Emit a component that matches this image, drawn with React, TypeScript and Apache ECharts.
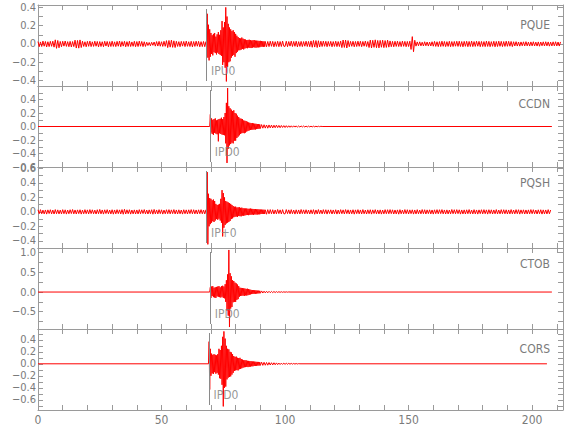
import React, { useEffect, useRef } from 'react';
import * as echarts from 'echarts';

// ---------- data ----------
const STATIONS = ['PQUE', 'CCDN', 'PQSH', 'CTOB', 'CORS'];
const PHASES = ['IPU0', 'IPD0', 'IP+0', 'IPD0', 'IPD0'];
const PICK_TIMES = [68.2, 69.7, 68.2, 69.7, 69.2];
const Y_MIN = [-0.46, -0.6, -0.5, -0.94, -0.77];
const Y_MAX = [0.426, 0.6, 0.62, 1.12, 0.58];
const X_MAX = 212.5;
const COARSE = 0.5; // s between samples in quiet parts
const FINE = 0.25; // s between samples in the event window

// amplitudes in thousandths
// PQUE: pre-event from t = 0 (0.5 s), event from 68 s (0.25 s), coda from 92.5 s (0.5 s)
const PQUE_PRE_MILLI = [
  26,-30,22,-28,31,-25,27,-33,24,-29,28,-26,30,-35,45,-48,38,-42,27,-31,
  29,-24,32,-27,25,-30,28,-33,26,-29,41,-45,38,-46,44,-39,30,-27,24,-31,
  28,-26,31,-29,23,-27,30,-25,27,-32,26,-28,24,-30,29,-23,27,-31,25,-28,
  30,-27,23,-29,28,-25,32,-30,26,-24,29,-31,25,-27,30,-28,22,-26,29,-30,
  26,-28,31,-25,27,-29,24,-27,19,-17,16,-20,18,-15,21,-24,26,-23,28,-25,
  24,-27,29,-26,36,-40,38,-35,41,-37,34,-39,29,-27,25,-30,28,-24,27,-29,
  31,-26,24,-28,29,-32,26,-27,30,-25,28,-31,25,-29,27,-30,
];
const PQUE_EVENT_START = 68;
const PQUE_EVENT_MILLI = [
  25,-30,330,-150,210,-180,160,-140,120,-110,95,-125,110,-90,120,-100,80,-115,105,-95,
  130,-110,100,-120,150,-130,250,-230,180,-200,240,-260,400,-410,300,-250,220,-200,180,-190,
  160,-150,140,-130,150,-120,130,-140,110,-100,90,-85,75,-70,65,-68,60,-62,70,-55,
  58,-60,52,-50,48,-45,42,-47,44,-40,46,-43,41,-45,38,-42,40,-36,43,-39,
  37,-41,36,-38,35,-37,33,-36,34,-31,32,-30,29,-31,28,-30,27,
];
const PQUE_POST_START = 92.5;
const PQUE_POST_MILLI = [
  -31,27,-29,30,-26,28,-32,25,-27,29,-30,26,-28,31,-25,
  -27,29,-30,26,-24,31,-28,27,-26,30,-32,25,-27,28,-29,26,-25,30,-28,27,
  -30,33,-36,38,-34,37,-39,35,-33,30,-28,31,-26,29,-30,27,-25,28,-31,26,
  -27,30,-29,26,-28,31,-40,43,-38,42,-44,37,-30,28,-26,29,-31,27,-28,30,
  -26,29,-30,27,-25,31,-28,26,-39,42,-44,40,-37,45,-41,38,-43,39,-36,41,
  -40,37,-38,42,-35,33,-30,28,-31,29,-27,30,-28,26,-29,31,-26,28,-30,27,
  -28,30,-60,80,-85,40,-24,22,-20,23,-21,19,-22,24,-20,21,-23,20,-22,24,
  -25,28,-27,24,-29,26,-28,30,-26,27,-29,25,-27,29,-30,26,-28,27,-25,29,
  -27,30,-28,26,-31,28,-26,29,-30,27,-28,31,-29,26,-27,30,-25,28,-30,27,
  -28,26,-29,31,-27,28,-30,25,-26,29,-31,27,-28,30,-26,28,-29,26,-27,30,
  -26,28,-25,27,-29,24,-22,25,-23,21,-24,22,-20,23,-22,25,-21,20,-23,22,
  -21,24,-22,20,-23,22,-25,21,-20,23,-22,24,-21,22,-24,20,-22,23,-21,24,
  -22,21,-23,22,
];

const PQSH_PRE_MILLI = [
  28,-25,30,-27,24,-29,26,-31,27,-24,29,-28,25,-30,31,-26,27,-29,24,-28,
  30,-26,28,-31,25,-27,29,-24,32,-28,26,-30,27,-25,29,-31,24,-27,30,-26,
  27,-29,31,-25,28,-27,24,-30,29,-26,33,-28,26,-31,28,-24,30,-27,25,-29,
  29,-32,26,-28,30,-25,27,-29,31,-33,35,-30,28,-26,29,-31,25,-28,27,-30,
  26,-29,30,-27,28,-24,31,-28,25,-30,27,-26,29,-32,33,-28,26,-29,30,-25,
  28,-31,24,-27,29,-26,30,-28,27,-25,31,-29,26,-30,28,-27,25,-31,29,-26,
  27,-30,28,-25,31,-27,29,-28,26,-30,28,-26,30,-27,25,-29,
];
const PQSH_EVENT_START = 68;
const PQSH_EVENT_MILLI = [
  28,-30,550,-450,250,-200,190,-170,180,-150,160,-130,170,-140,150,-120,110,-100,95,-110,
  100,-95,110,-120,180,-150,300,-340,260,-220,200,-180,150,-160,140,-150,130,-140,120,-125,
  110,-100,95,-90,80,-75,70,-68,72,-65,60,-70,62,-58,64,-60,55,-62,58,-52,
  50,-55,48,-50,46,-45,47,-44,42,-46,43,-41,45,-40,42,-38,40,-42,38,-36,
  39,-37,35,-38,36,-34,33,-35,32,-30,31,-29,30,-28,29,-30,28,
];
const PQSH_POST_START = 92.5;
const PQSH_POST_MILLI = [
  -33,30,-28,31,-27,29,-30,26,-28,32,-25,27,-29,30,-26,
  -28,31,-25,27,-29,30,-26,24,-31,28,-27,26,-30,32,-25,27,-28,29,-26,25,
  -30,28,-27,30,-33,26,-29,31,-27,25,-28,30,-26,29,-31,27,-24,28,-30,26,
  -27,29,-31,25,-28,30,-26,27,-29,31,-25,28,-30,26,-27,29,-32,27,-25,30,
  -28,26,-29,31,-27,25,-30,28,-26,29,-31,27,-24,30,-28,26,-29,27,-31,25,
  -28,30,-26,29,-27,31,-25,28,-30,26,-29,27,-32,30,-27,25,-28,31,-26,29,
  -30,27,-25,28,-31,26,-29,30,-27,24,-28,31,-26,29,-30,27,-25,28,-29,26,
  -31,28,-26,30,-27,29,-25,31,-28,26,-30,27,-29,25,-28,32,-26,29,-27,30,
  -25,28,-31,26,-29,27,-30,28,-26,31,-27,25,-29,30,-28,26,-31,27,-25,29,
  -28,30,-26,27,-31,29,-25,28,-30,26,-27,31,-29,25,-28,30,-26,29,-27,28,
  -30,26,-29,31,-27,25,-28,30,-26,29,-31,27,-25,28,-30,26,-29,27,-28,31,
  -26,29,-27,25,-30,28,-26,29,-31,27,-28,26,-29,30,-27,25,
];

// quiet stations: flat before onset, event window (0.25 s), coda tail (0.5 s), flat to end
const CCDN_START = 69.5;
const CCDN_END = 208;
const CCDN_EVENT_MILLI = [
  0,180,-90,120,-110,100,-125,110,-95,120,-105,90,-115,100,-220,110,-100,115,-110,130,
  -120,110,-125,140,-130,200,-250,350,-540,570,-330,300,-280,270,-260,250,-240,230,-250,240,
  -210,200,-210,190,-170,160,-150,140,-130,120,-110,115,-100,110,-95,90,-100,85,-90,80,
  -75,70,-65,60,-58,55,-52,50,-48,52,-47,45,-44,42,-45,40,-38,37,-36,35,
  -33,32,-30,
];
const CCDN_TAIL_START = 90.5;
const CCDN_TAIL_MILLI = [
  28,-25,26,-24,22,-25,23,-20,21,-22,19,-18,20,-17,16,-18,15,-14,13,-15,
  12,-13,11,-12,10,-11,10,-9,9,-10,8,-9,8,-7,7,-8,6,-7,6,-6,
  5,-6,5,-5,4,-4,4,-3,3,0,
];

const CTOB_START = 69.5;
const CTOB_END = 208;
const CTOB_EVENT_MILLI = [
  0,120,-150,140,-100,150,-130,110,-140,120,-150,130,-110,140,-120,150,-130,120,-140,150,
  -120,160,-150,140,-160,200,-250,300,-470,450,-600,1070,-890,480,-420,400,-380,300,-260,280,
  -250,240,-250,220,-200,190,-180,150,-120,110,-100,105,-95,100,-90,95,-100,90,-85,80,
  -90,85,-80,75,-70,65,-60,55,-52,50,-48,46,-45,48,-44,42,-40,38,-36,35,
  -33,32,-30,
];
const CTOB_TAIL_START = 90.5;
const CTOB_TAIL_MILLI = [
  28,-25,22,-21,20,-19,18,-16,15,-14,13,-12,11,-10,9,-8,8,-7,6,-5,
  5,-4,3,0,
];

const CORS_START = 69;
const CORS_END = 206;
const CORS_EVENT_MILLI = [
  0,370,-430,250,-200,170,-160,150,-170,160,-140,150,-165,140,-150,160,-180,250,-240,230,
  -250,300,-350,450,-710,540,-400,420,-380,300,-260,250,-230,240,-220,200,-210,190,-180,160,
  -150,130,-120,115,-110,120,-105,100,-110,95,-90,100,-85,80,-75,70,-65,60,-58,60,
  -55,58,-52,50,-55,48,-50,45,-47,44,-42,40,-42,38,-36,37,-35,33,-34,32,
  -30,31,-29,28,-27,
];
const CORS_TAIL_START = 90.5;
const CORS_TAIL_MILLI = [
  27,-26,25,-24,22,-23,21,-20,18,-19,17,-16,15,-14,12,-12,11,-10,10,-9,
  9,-8,8,-7,7,-6,6,-5,5,-4,3,0,
];

// ---------- builders ----------
function samples(start: number, step: number, milli: number[]): number[][] {
  return milli.map((v, i) => [start + i * step, v / 1000]);
}
function noisyTrace(pre: number[], evStart: number, ev: number[], postStart: number, post: number[]) {
  return [
    ...samples(0, COARSE, pre),
    ...samples(evStart, FINE, ev),
    ...samples(postStart, COARSE, post),
  ];
}
function quietTrace(start: number, ev: number[], tailStart: number, tail: number[], end: number) {
  return [[0, 0], ...samples(start, FINE, ev), ...samples(tailStart, COARSE, tail), [end, 0]];
}

const TRACES = [
  noisyTrace(PQUE_PRE_MILLI, PQUE_EVENT_START, PQUE_EVENT_MILLI, PQUE_POST_START, PQUE_POST_MILLI),
  quietTrace(CCDN_START, CCDN_EVENT_MILLI, CCDN_TAIL_START, CCDN_TAIL_MILLI, CCDN_END),
  noisyTrace(PQSH_PRE_MILLI, PQSH_EVENT_START, PQSH_EVENT_MILLI, PQSH_POST_START, PQSH_POST_MILLI),
  quietTrace(CTOB_START, CTOB_EVENT_MILLI, CTOB_TAIL_START, CTOB_TAIL_MILLI, CTOB_END),
  quietTrace(CORS_START, CORS_EVENT_MILLI, CORS_TAIL_START, CORS_TAIL_MILLI, CORS_END),
];

// ---------- layout / style ----------
const GRID_TOP = [5, 86, 167, 248, 329];
const GRID_H = 81;
const GRID_LEFT = 38;
const GRID_W = 525;
const SPLIT_NUMBERS = [5, 5, 5, 5, 6];
const SHOW_MIN_LABEL = [false, true, false, false, false];
const STATION_LABEL_Y = [25, 104, 183, 264, 349];
const AX = '#9a9a9a';
const TXT = '#7a7a7a';
const MARK = '#8a8a8a';
const FONT_FAMILY = '"Liberation Sans Narrow", "DejaVu Sans Condensed", "Liberation Sans", sans-serif';

const fmtY = (v: number) => {
  const r = Math.round(v * 100) / 100;
  if (Math.abs(r) < 1e-9) return '0.0';
  return (r < 0 ? '\u2212' : '') + Math.abs(r).toFixed(1);
};

export default function App() {
  const ref = useRef<HTMLDivElement>(null);
  useEffect(() => {
    if (!ref.current) return;
    const chart = echarts.init(ref.current, undefined, { renderer: 'svg' });

    const grid: any[] = [];
    const xAxis: any[] = [];
    const yAxis: any[] = [];
    const series: any[] = [];

    for (let i = 0; i < 5; i++) {
      const min = Y_MIN[i];
      const max = Y_MAX[i];
      const span = max - min;
      grid.push({ left: GRID_LEFT, top: GRID_TOP[i], width: GRID_W, height: GRID_H });

      const xBase = {
        type: 'value',
        gridIndex: i,
        min: 0,
        max: X_MAX,
        interval: 50,
        axisLine: { show: true, onZero: false, lineStyle: { color: AX, width: 1 } },
        axisTick: { show: true, inside: true, length: 5, lineStyle: { color: AX } },
        minorTick: { show: true, splitNumber: 5, length: 5, lineStyle: { color: AX } },
        splitLine: { show: false },
        minorSplitLine: { show: false },
      };
      xAxis.push({
        ...xBase,
        position: 'bottom',
        axisLabel: {
          show: i === 4,
          color: TXT,
          fontFamily: FONT_FAMILY,
          fontSize: 12,
          margin: 4,
          showMaxLabel: false,
          formatter: (v: number) => String(Math.round(v)),
        },
      });
      xAxis.push({ ...xBase, position: 'top', axisLabel: { show: false } });

      const yBase = {
        type: 'value',
        gridIndex: i,
        min,
        max,
        splitNumber: SPLIT_NUMBERS[i],
        axisLine: { show: true, onZero: false, lineStyle: { color: AX, width: 1 } },
        axisTick: { show: true, inside: true, length: 5, lineStyle: { color: AX } },
        minorTick: { show: true, splitNumber: 2, length: 5, lineStyle: { color: AX } },
        splitLine: { show: false },
        minorSplitLine: { show: false },
      };
      yAxis.push({
        ...yBase,
        position: 'left',
        axisLabel: {
          show: true,
          color: TXT,
          fontFamily: FONT_FAMILY,
          fontSize: 11,
          lineHeight: 9,
          margin: 2,
          showMinLabel: SHOW_MIN_LABEL[i],
          showMaxLabel: false,
          formatter: fmtY,
        },
      });
      yAxis.push({ ...yBase, position: 'right', axisLabel: { show: false } });

      const pick = PICK_TIMES[i];
      const yTop = max - (4 / GRID_H) * span;
      const yBot = min + (5 / GRID_H) * span;
      const yLab = max - (66 / GRID_H) * span;

      series.push({
        type: 'line',
        xAxisIndex: i * 2,
        yAxisIndex: i * 2,
        data: TRACES[i],
        symbol: 'none',
        showSymbol: false,
        silent: true,
        emphasis: { disabled: true },
        lineStyle: { color: '#ff0000', width: 1 },
        z: 2,
        markLine: {
          silent: true,
          symbol: ['none', 'none'],
          label: { show: false },
          emphasis: { disabled: true },
          lineStyle: { color: MARK, width: 1, type: 'solid' },
          data: [[{ coord: [pick, yTop] }, { coord: [pick, yBot] }]],
        },
      });
      series.push({
        type: 'scatter',
        xAxisIndex: i * 2,
        yAxisIndex: i * 2,
        data: [[pick, yLab]],
        symbolSize: 1,
        silent: true,
        itemStyle: { color: 'rgba(0,0,0,0)' },
        label: {
          show: true,
          position: 'right',
          distance: 4,
          formatter: PHASES[i],
          color: TXT,
          fontFamily: FONT_FAMILY,
          fontSize: 12,
        },
        z: 6,
      });
    }

    const graphic = STATIONS.map((name, i) => ({
      type: 'text',
      x: 550,
      y: STATION_LABEL_Y[i],
      silent: true,
      style: {
        text: name,
        fill: TXT,
        font: `12px ${FONT_FAMILY}`,
        align: 'right',
        verticalAlign: 'middle',
      },
    }));

    chart.setOption({
      animation: false,
      backgroundColor: '#ffffff',
      grid,
      xAxis,
      yAxis,
      series,
      graphic,
    });
    return () => chart.dispose();
  }, []);

  return (
    <div
      ref={ref}
      style={{ position: 'absolute', left: 0, top: 0, width: 580, height: 440, background: '#fff' }}
    />
  );
}
